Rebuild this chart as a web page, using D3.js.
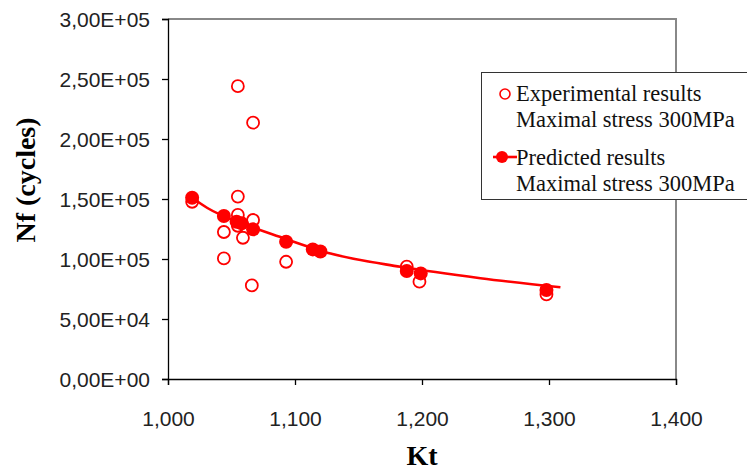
<!DOCTYPE html>
<html>
<head>
<meta charset="utf-8">
<script src="https://cdn.jsdelivr.net/npm/d3@7.9.0/dist/d3.min.js"></script>
<style>
  body { margin: 0; background: #fff; }
  svg { display: block; }
</style>
</head>
<body>
<svg id="chart" width="747" height="470"></svg>
<script>
// experimental results (open circles)
const expKt = [1.019, 1.044, 1.044, 1.055, 1.055, 1.055, 1.055, 1.059, 1.067, 1.067, 1.066, 1.093, 1.188, 1.198, 1.298];
const expNf = [147700, 122500, 100500, 244000, 152000, 136700, 127700, 117700, 213600, 132500, 78000, 97700, 93600, 81100, 70500];

// predicted results (filled circles)
const predKt = [1.019, 1.044, 1.054, 1.058, 1.067, 1.093, 1.114, 1.120, 1.188, 1.199, 1.298];
const predNf = [151000, 135800, 131100, 129700, 124700, 114400, 108000, 106300, 90000, 88000, 74200];

// points along the predicted curve
const curveKt = [1.019, 1.031, 1.060, 1.088, 1.128, 1.183, 1.246, 1.309];
const curveNf = [151000, 142500, 129000, 118500, 104500, 93500, 84000, 76500];

const xTicks = [1.0, 1.1, 1.2, 1.3, 1.4];
const yTicks = [0, 50000, 100000, 150000, 200000, 250000, 300000];

const legendLabels = [
  ["Experimental results", "Maximal stress 300MPa"],
  ["Predicted results", "Maximal stress 300MPa"]
];

const red = "#ff0000";
const svg = d3.select("#chart");

const x = d3.scaleLinear().domain([1.0, 1.4]).range([168, 676]);
const y = d3.scaleLinear().domain([0, 300000]).range([379, 19]);

// top / right frame (grey)
svg.append("path")
  .attr("d", `M${x(1.0)},${y(300000)}H${x(1.4)}V${y(0)}`)
  .attr("fill", "none")
  .attr("stroke", "#888")
  .attr("stroke-width", 2);

const fmtX = d => d.toFixed(3).replace(".", ",");
const fmtY = d => {
  const [m, e] = d.toExponential(2).split("e");
  const n = Math.abs(+e);
  return m.replace(".", ",") + "E" + (+e < 0 ? "-" : "+") + (n < 10 ? "0" : "") + n;
};

const xAxis = svg.append("g")
  .attr("transform", `translate(0,${y(0)})`)
  .call(d3.axisBottom(x).tickValues(xTicks).tickFormat(fmtX).tickSize(6).tickPadding(26));

const yAxis = svg.append("g")
  .attr("transform", `translate(${x(1.0)},0)`)
  .call(d3.axisLeft(y).tickValues(yTicks).tickFormat(fmtY).tickSize(6).tickPadding(12));

[xAxis, yAxis].forEach(g => {
  g.select(".domain").attr("stroke", "#000").attr("stroke-width", 1.3);
  g.selectAll(".tick line").attr("stroke", "#000").attr("stroke-width", 1.3);
  g.selectAll(".tick text")
    .attr("fill", "#222")
    .style("font-family", "'Liberation Sans', Arial, sans-serif")
    .style("font-size", "21px");
});
yAxis.selectAll(".tick text").attr("dy", "0.36em");

// axis titles
svg.append("text")
  .attr("x", (x(1.0) + x(1.4)) / 2)
  .attr("y", 465)
  .attr("text-anchor", "middle")
  .style("font-family", "'Liberation Serif', 'Times New Roman', serif")
  .style("font-weight", "bold")
  .style("font-size", "28px")
  .text("Kt");

svg.append("text")
  .attr("transform", "translate(35,180) rotate(-90)")
  .attr("text-anchor", "middle")
  .style("font-family", "'Liberation Serif', 'Times New Roman', serif")
  .style("font-weight", "bold")
  .style("font-size", "28px")
  .text("Nf (cycles)");

// predicted curve
const line = d3.line()
  .x((d, i) => x(curveKt[i]))
  .y(d => y(d))
  .curve(d3.curveMonotoneX);

svg.append("path")
  .datum(curveNf)
  .attr("d", line)
  .attr("fill", "none")
  .attr("stroke", red)
  .attr("stroke-width", 2.6);

// experimental (open)
svg.append("g").selectAll("circle")
  .data(expNf)
  .join("circle")
  .attr("cx", (d, i) => x(expKt[i]))
  .attr("cy", d => y(d))
  .attr("r", 6)
  .attr("fill", "none")
  .attr("stroke", red)
  .attr("stroke-width", 1.8);

// predicted (filled)
svg.append("g").selectAll("circle")
  .data(predNf)
  .join("circle")
  .attr("cx", (d, i) => x(predKt[i]))
  .attr("cy", d => y(d))
  .attr("r", 7)
  .attr("fill", red);

// legend
const lg = svg.append("g");
lg.append("rect")
  .attr("x", 481.5).attr("y", 72.5)
  .attr("width", 280).attr("height", 127)
  .attr("fill", "#fff")
  .attr("stroke", "#333")
  .attr("stroke-width", 1);

lg.append("circle")
  .attr("cx", 505).attr("cy", 94).attr("r", 5)
  .attr("fill", "none").attr("stroke", red).attr("stroke-width", 1.6);

lg.append("line")
  .attr("x1", 493).attr("x2", 517).attr("y1", 157).attr("y2", 157)
  .attr("stroke", red).attr("stroke-width", 2.6);
lg.append("circle")
  .attr("cx", 502).attr("cy", 157).attr("r", 6)
  .attr("fill", red);

const baselines = [[101, 127], [165, 191]];
legendLabels.forEach((lines, i) => {
  lines.forEach((t, j) => {
    lg.append("text")
      .attr("x", 516)
      .attr("y", baselines[i][j])
      .style("font-family", "'Liberation Serif', 'Times New Roman', serif")
      .style("font-size", "22.5px")
      .attr("fill", "#111")
      .text(t);
  });
});
</script>
</body>
</html>
